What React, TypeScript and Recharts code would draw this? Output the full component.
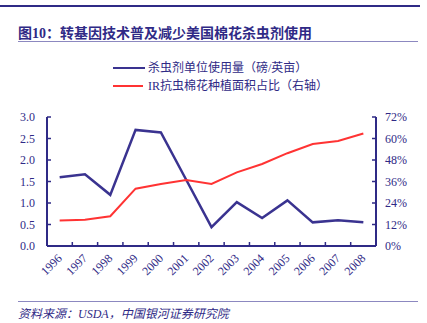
import { ComposedChart, Line, XAxis, YAxis, Legend } from 'recharts';

const years = ['1996', '1997', '1998', '1999', '2000', '2001', '2002', '2003', '2004', '2005', '2006', '2007', '2008'];
const usage = [1.6, 1.67, 1.19, 2.7, 2.64, 1.54, 0.44, 1.02, 0.65, 1.06, 0.55, 0.6, 0.55];
const irShare = [14.3, 14.7, 16.6, 32.0, 34.6, 36.8, 34.6, 41.1, 45.8, 51.8, 56.9, 58.6, 62.8];
const leftTicks = [0, 0.5, 1, 1.5, 2, 2.5, 3];
const rightTicks = [0, 12, 24, 36, 48, 60, 72];

const data = years.map((y, i) => ({ year: y, usage: usage[i], ir: irShare[i] }));

const NAVY = '#2f2a86';
const LINE_BLUE = '#3a3390';
const RED = '#ff3333';
const FONT = '"Liberation Serif", "Noto Sans CJK SC", serif';
const BAND = 329 / years.length;

const LeftTick = (props: any) => {
  const { x, y, payload } = props;
  return (
    <g>
      <line x1={x} x2={x + 4} y1={y} y2={y} stroke={NAVY} strokeWidth={1.5} />
      <text x={x - 12} y={y + 4} textAnchor="end" fontSize={12} fill={NAVY} fontFamily={FONT}>
        {payload.value.toFixed(1)}
      </text>
    </g>
  );
};

const RightTick = (props: any) => {
  const { x, y, payload } = props;
  return (
    <g>
      <line x1={x} x2={x - 4} y1={y} y2={y} stroke={NAVY} strokeWidth={1.5} />
      <text x={x + 9} y={y + 4} textAnchor="start" fontSize={12} fill={NAVY} fontFamily={FONT}>
        {payload.value + '%'}
      </text>
    </g>
  );
};

const YearTick = (props: any) => {
  const { x, y, payload, index } = props;
  const tx = x + 3;
  const ty = y + 13;
  return (
    <g>
      {index < years.length - 1 && (
        <line x1={x + BAND / 2} x2={x + BAND / 2} y1={y} y2={y - 4} stroke={NAVY} strokeWidth={1.5} />
      )}
      <text x={tx} y={ty} textAnchor="end" fontSize={12} fill={NAVY} fontFamily={FONT} transform={`rotate(-45 ${tx} ${ty})`}>
        {payload.value}
      </text>
    </g>
  );
};

const LegendBox = () => (
  <div style={{ fontFamily: FONT, fontSize: 12, color: NAVY, lineHeight: '18px' }}>
    <div style={{ display: 'flex', alignItems: 'center' }}>
      <span style={{ display: 'inline-block', width: 32, height: 2, background: LINE_BLUE, marginRight: 3 }} />
      杀虫剂单位使用量（磅/英亩）
    </div>
    <div style={{ display: 'flex', alignItems: 'center' }}>
      <span style={{ display: 'inline-block', width: 30, height: 2, background: RED, marginRight: 5 }} />
      IR抗虫棉花种植面积占比（右轴）
    </div>
  </div>
);

export default function App() {
  return (
    <div style={{ position: 'absolute', left: 0, top: 0, width: 427, height: 323, background: '#fff', fontFamily: FONT }}>
      <div style={{ position: 'absolute', left: 0, top: 5, width: 420, height: 2, background: NAVY }} />
      <div style={{ position: 'absolute', left: 18, top: 22, fontSize: 14, fontWeight: 'bold', color: NAVY, whiteSpace: 'nowrap' }}>
        图10：转基因技术普及减少美国棉花杀虫剂使用
      </div>
      <div style={{ position: 'absolute', left: 18, top: 41, width: 400, height: 1, background: '#8c88c0' }} />
      <ComposedChart width={427} height={323} data={data} margin={{ top: 81, right: 0, bottom: 37, left: 0 }}>
        <XAxis
          dataKey="year"
          xAxisId="x"
          tick={<YearTick />}
          tickLine={false}
          tickSize={0}
          tickMargin={0}
          height={40}
          interval={0}
          padding={{ left: BAND / 2, right: BAND / 2 }}
          stroke={NAVY}
          strokeWidth={2}
        />
        <YAxis
          yAxisId="left"
          orientation="left"
          width={47}
          domain={[0, 3]}
          ticks={leftTicks}
          tick={<LeftTick />}
          tickLine={false}
          tickSize={0}
          tickMargin={0}
          stroke={NAVY}
          strokeWidth={2}
          interval={0}
        />
        <YAxis
          yAxisId="right"
          orientation="right"
          width={51}
          domain={[0, 72]}
          ticks={rightTicks}
          tick={<RightTick />}
          tickLine={false}
          tickSize={0}
          tickMargin={0}
          stroke={NAVY}
          strokeWidth={2}
          interval={0}
        />
        <Legend
          verticalAlign="top"
          content={<LegendBox />}
          wrapperStyle={{ position: 'absolute', top: 59, left: 113, width: 260 }}
        />
        <Line
          xAxisId="x"
          yAxisId="left"
          dataKey="usage"
          type="linear"
          stroke={LINE_BLUE}
          strokeWidth={2.5}
          dot={false}
          isAnimationActive={false}
        />
        <Line
          xAxisId="x"
          yAxisId="right"
          dataKey="ir"
          type="linear"
          stroke={RED}
          strokeWidth={2}
          dot={false}
          isAnimationActive={false}
        />
      </ComposedChart>
      <div style={{ position: 'absolute', left: 18, top: 301, width: 400, height: 1, background: '#8c88c0' }} />
      <div style={{ position: 'absolute', left: 18, top: 304, fontSize: 12, fontStyle: 'italic', color: NAVY, whiteSpace: 'nowrap' }}>
        资料来源：USDA，中国银河证券研究院
      </div>
    </div>
  );
}
